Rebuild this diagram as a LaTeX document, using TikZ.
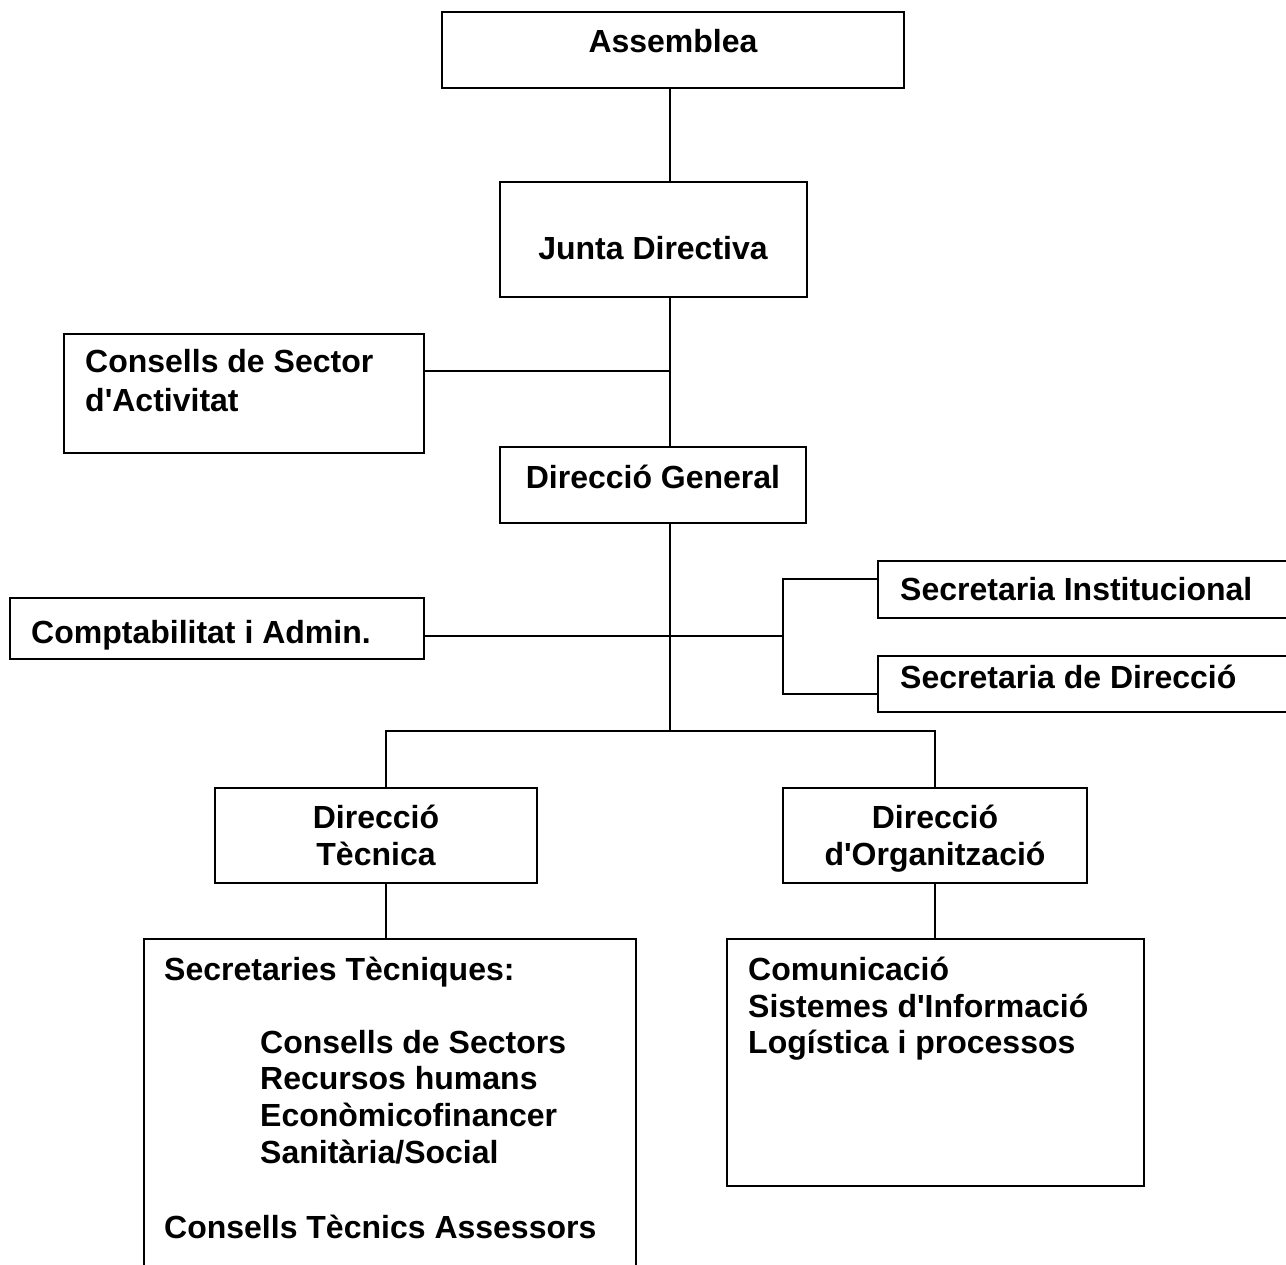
\documentclass[tikz,border=0pt]{standalone}
\usepackage{fontspec}
\setmainfont{Liberation Sans}
\begin{document}
\begin{tikzpicture}[x=1pt,y=-1pt,
  box/.style={draw,line width=2pt,inner sep=0pt},
  conn/.style={line width=2pt},
  lbl/.style={inner sep=0pt,font=\fontsize{32}{36.6}\selectfont\bfseries},
  lw/.style={lbl,anchor=base west},
  lc/.style={lbl,anchor=base}]
\useasboundingbox (0,0) rectangle (1286,1265);
\clip (0,0) rectangle (1286,1265);
% boxes
\node[box] (ass) at (673,50) [minimum width=462pt,minimum height=76pt] {};
\node[box] (jd) at (653.5,239.5) [minimum width=307pt,minimum height=115pt] {};
\node[box] (csa) at (244,393.5) [minimum width=360pt,minimum height=119pt] {};
\node[box] (dg) at (653,485) [minimum width=306pt,minimum height=76pt] {};
\node[box] (ca) at (217,628.5) [minimum width=414pt,minimum height=61pt] {};
\node[box] (si) at (1089,589.5) [minimum width=422pt,minimum height=57pt] {};
\node[box] (sd) at (1089,684) [minimum width=422pt,minimum height=56pt] {};
\node[box] (dt) at (376,835.5) [minimum width=322pt,minimum height=95pt] {};
\node[box] (do) at (935,835.5) [minimum width=304pt,minimum height=95pt] {};
\node[box] (st) at (390,1119.5) [minimum width=492pt,minimum height=361pt] {};
\node[box] (org) at (935.5,1062.5) [minimum width=417pt,minimum height=247pt] {};
% helper coordinates
\coordinate (sp) at (670,0);
\coordinate (csay) at (0,371);
\coordinate (bar) at (0,731);
\coordinate (cay) at (0,636);
\coordinate (br) at (783,0);
\coordinate (siy) at (0,579);
\coordinate (sdy) at (0,694);
\coordinate (dtx) at (386,0);
\coordinate (dox) at (935,0);
% connectors
\draw[conn] (ass.south -| sp) -- (jd.north -| sp);
\draw[conn] (jd.south -| sp) -- (dg.north -| sp);
\draw[conn] (csa.east |- csay) -- (sp |- csay);
\draw[conn] (dg.south -| sp) -- (sp |- bar);
\draw[conn] (dt.north -| dtx) -- (dtx |- bar) -- (dox |- bar) -- (do.north -| dox);
\draw[conn] (dt.south -| dtx) -- (st.north -| dtx);
\draw[conn] (do.south -| dox) -- (org.north -| dox);
\draw[conn] (ca.east |- cay) -- (br |- cay);
\draw[conn] (si.west |- siy) -- (br |- siy) -- (br |- sdy) -- (sd.west |- sdy);
% labels
\node[lc] (tass) at (673,53) {Assemblea};
\node[lc] (tjd) at (653,260) {Junta Directiva};
\node[lw] (tcsa1) at (85,373) {Consells de Sector};
\node[lw] (tcsa2) at (85,412) {d\textquotesingle Activitat};
\node[lc] (tdg) at (653,488) {Direcció General};
\node[lw] (tca) at (31,643) {Comptabilitat i Admin.};
\node[lw] (tsi) at (900,600) {Secretaria Institucional};
\node[lw] (tsd) at (900,688) {Secretaria de Direcció};
\node[lc] (tdt1) at (376,828) {Direcció};
\node[lc] (tdt2) at (376,865) {Tècnica};
\node[lc] (tdo1) at (935,828) {Direcció};
\node[lc] (tdo2) at (935,865) {d\textquotesingle Organització};
\node[lw] (tst0) at (164,980) {Secretaries Tècniques:};
\node[lw] (tst1) at (260,1053) {Consells de Sectors};
\node[lw] (tst2) at (260,1089) {Recursos humans};
\node[lw] (tst3) at (260,1126) {Econòmicofinancer};
\node[lw] (tst4) at (260,1163) {Sanitària/Social};
\node[lw] (tst5) at (164,1238) {Consells Tècnics Assessors};
\node[lw] (tor1) at (748,980) {Comunicació};
\node[lw] (tor2) at (748,1017) {Sistemes d\textquotesingle Informació};
\node[lw] (tor3) at (748,1053) {Logística i processos};
\end{tikzpicture}
\end{document}
